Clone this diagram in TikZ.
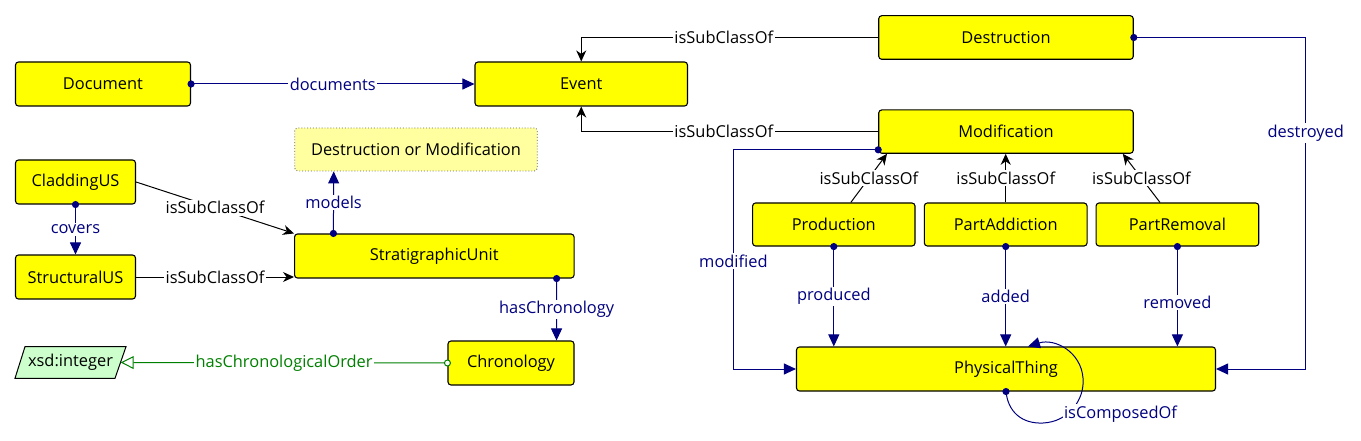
\documentclass[tikz,border=0pt]{standalone}
\usepackage{fontspec}
\setmainfont{Open Sans}
\usetikzlibrary{arrows.meta,calc}
\definecolor{navy}{RGB}{0,0,128}
\definecolor{ogreen}{RGB}{0,128,0}
\definecolor{boxyellow}{RGB}{255,255,0}
\definecolor{paleyellow}{RGB}{255,255,160}
\definecolor{palegreen}{RGB}{204,255,204}
\begin{document}
\begin{tikzpicture}[x=1pt,y=-1pt,
  every node/.style={font=\fontsize{16.4}{19}\selectfont},
  cls/.style={draw=black, line width=1.1pt, fill=boxyellow, rounded corners=3pt, minimum height=44pt, inner sep=0pt},
  dotbox/.style={draw=black!60, dotted, line width=0.9pt, fill=paleyellow, rounded corners=3pt, inner sep=0pt},
  navyedge/.style={draw=navy, line width=1pt, -{Triangle[length=12pt,width=11pt]}},
  subedge/.style={draw=black, line width=1pt, -{Stealth[length=11pt,width=10pt,inset=3.5pt]}},
  greenedge/.style={draw=ogreen, line width=1pt, -{Triangle[open,length=13pt,width=13pt,fill=white]}},
  navylab/.style={fill=white, text=navy, inner sep=1.5pt},
  blacklab/.style={fill=white, text=black, inner sep=1.5pt},
  greenlab/.style={fill=white, text=ogreen, inner sep=1.5pt},
  dotmark/.style={fill=navy}
]
\useasboundingbox (0,0) rectangle (1361,441);
\fill[white] (0,0) rectangle (1361,441);

% classes
\node[cls, minimum width=175pt] (doc) at (103,84) {Document};
\node[cls, minimum width=212.5pt] (event) at (581.25,84) {Event};
\node[cls, minimum width=254.5pt, minimum height=43.6pt] (destr) at (1006,37.5) {Destruction};
\node[cls, minimum width=254.5pt, minimum height=43.3pt] (modif) at (1006,131.6) {Modification};
\node[dotbox, minimum width=242.5pt, minimum height=43pt] (dom) at (416,149.5) {Destruction or Modification};
\node[cls, minimum width=120pt] (clad) at (75.5,182) {CladdingUS};
\node[cls, minimum width=120pt] (struct) at (75.5,277) {StructuralUS};
\node[cls, minimum width=279.5pt] (strat) at (434.3,256) {StratigraphicUnit};
\node[cls, minimum width=126pt] (chron) at (511,363) {Chronology};
\draw[line width=1pt, fill=palegreen] (25,346.7) -- (126,346.7) -- (115,378.3) -- (15,378.3) -- cycle;
\node[minimum width=100pt, minimum height=31.6pt, inner sep=0pt] (xsd) at (70.5,362.5) {xsd:integer};
\node[cls, minimum width=162.4pt, minimum height=43pt] (prod) at (833.8,224.5) {Production};
\node[cls, minimum width=162.7pt, minimum height=43pt] (padd) at (1005.7,224.5) {PartAddiction};
\node[cls, minimum width=162.7pt, minimum height=43pt] (prem) at (1177.4,224.5) {PartRemoval};
\node[cls, minimum width=419pt] (phys) at (1006,369) {PhysicalThing};

% navy object properties
\draw[navyedge] (doc.east) -- node[navylab]{documents} (event.west);
\draw[navyedge] (clad.south) -- node[navylab]{covers} (struct.north);
\draw[navyedge] ([xshift=39.4pt]strat.north west) -- node[navylab]{models} ([xshift=39.4pt]dom.south west);
\draw[navyedge] ([xshift=-18pt]strat.south east) -- node[navylab]{hasChronology} ([xshift=-18pt]chron.north east);
\draw[navyedge] (destr.east) -- ([xshift=172pt]destr.east) |- node[navylab,pos=0.144]{destroyed} (phys.east);
\draw[navyedge] ([yshift=4pt]modif.south west) -- ++(-144.8,0) |- node[navylab,pos=0.254]{modified} (phys.west);
\draw[navyedge] (prod.south) -- node[navylab]{produced} (prod.south |- phys.north);
\draw[navyedge] (padd.south) -- node[navylab]{added} (padd.south |- phys.north);
\draw[navyedge] (prem.south) -- node[navylab,pos=0.56]{removed} (prem.south |- phys.north);
\draw[navyedge] (phys.south) .. controls (1008,412) and (1022,424) .. (1043,423)
   .. controls (1068,422) and (1085,400) .. (1083,378)
   .. controls (1081,352) and (1055,338) .. ([xshift=22pt]phys.north);
\node[navylab] (comp) at (1120.5,414) {isComposedOf};

% subclass edges
\draw[subedge] (destr.west) -| node[blacklab,pos=0.26]{isSubClassOf} (event.north);
\draw[subedge] (modif.west) -| node[blacklab,pos=0.26]{isSubClassOf} (event.south);
\draw[subedge] (clad.east) -- node[blacklab]{isSubClassOf} (strat.north west);
\draw[subedge] (struct.east) -- node[blacklab]{isSubClassOf} (struct.east -| strat.west);
\draw[subedge] ([xshift=17pt]prod.north) -- node[blacklab]{isSubClassOf} ([xshift=8.8pt]modif.south west);
\draw[subedge] (padd.north) -- node[blacklab]{isSubClassOf} (padd.north |- modif.south);
\draw[subedge] ([xshift=-17.4pt]prem.north) -- node[blacklab]{isSubClassOf} ([xshift=-11pt]modif.south east);

% datatype property
\draw[greenedge] (chron.west) -- node[greenlab]{hasChronologicalOrder} (xsd.east);
\draw[ogreen, line width=1pt, fill=white] (chron.west) circle[radius=3pt];

% domain dots
\fill[dotmark] (doc.east) circle[radius=3.6pt];
\fill[dotmark] (clad.south) circle[radius=3.6pt];
\fill[dotmark] ([xshift=39.4pt]strat.north west) circle[radius=3.6pt];
\fill[dotmark] ([xshift=-18pt]strat.south east) circle[radius=3.6pt];
\fill[dotmark] (destr.east) circle[radius=3.6pt];
\fill[dotmark] ([yshift=4pt]modif.south west) circle[radius=3.6pt];
\fill[dotmark] (prod.south) circle[radius=3.6pt];
\fill[dotmark] (padd.south) circle[radius=3.6pt];
\fill[dotmark] (prem.south) circle[radius=3.6pt];
\fill[dotmark] (phys.south) circle[radius=3.6pt];
\end{tikzpicture}
\end{document}
